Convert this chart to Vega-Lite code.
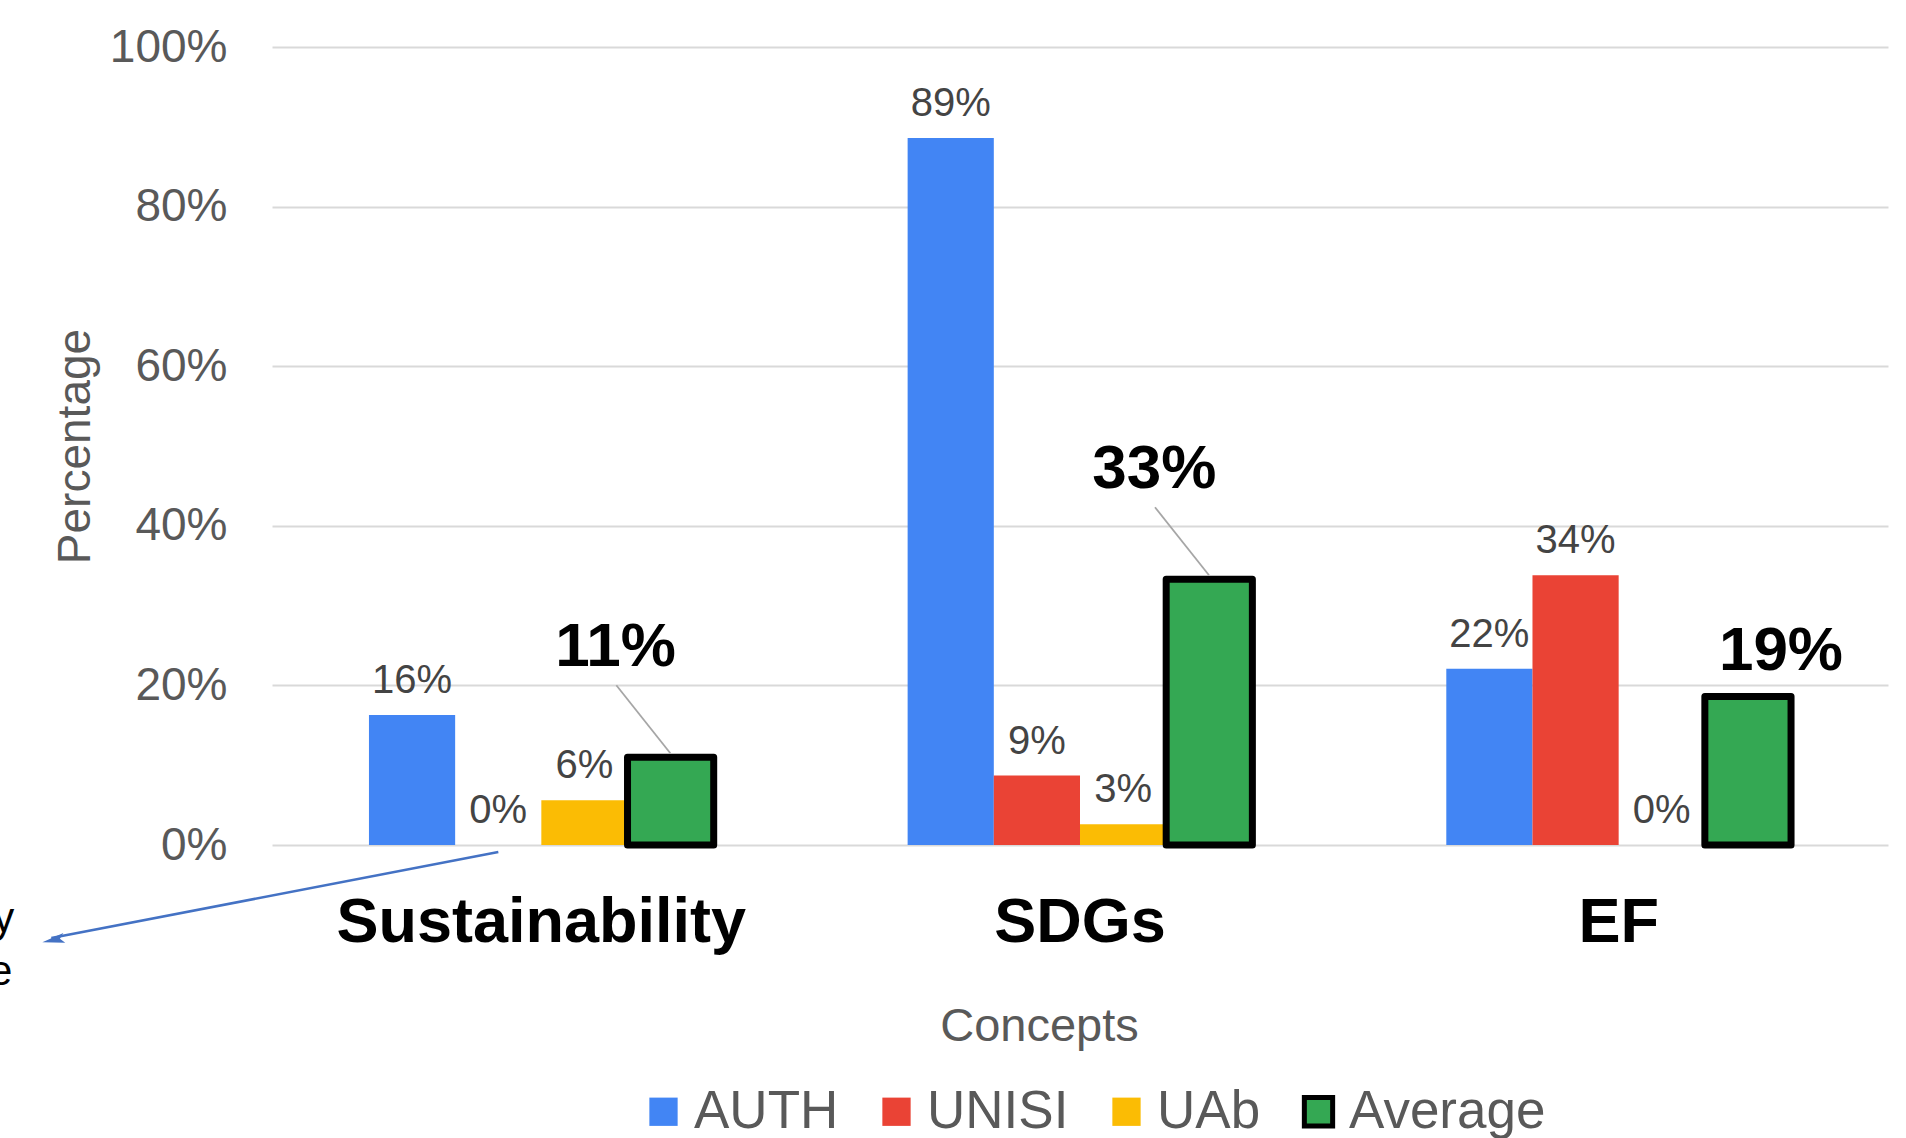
{
  "$schema": "https://vega.github.io/schema/vega-lite/v6.json",
  "autosize": {"type": "none"},
  "width": 1616,
  "height": 798,
  "padding": {"left": 272, "top": 47, "right": 18, "bottom": 293},
  "background": "white",
  "config": {
    "font": "Liberation Sans",
    "view": {"stroke": null},
    "axis": {"labelFont": "Liberation Sans", "titleFont": "Liberation Sans"},
    "legend": {"labelFont": "Liberation Sans"}
  },
  "data": {
    "values": [
      {"Concept": "Sustainability", "Series": "AUTH", "value": 0.163},
      {"Concept": "Sustainability", "Series": "UNISI", "value": 0.0},
      {"Concept": "Sustainability", "Series": "UAb", "value": 0.056},
      {"Concept": "Sustainability", "Series": "Average", "value": 0.11},
      {"Concept": "SDGs", "Series": "AUTH", "value": 0.886},
      {"Concept": "SDGs", "Series": "UNISI", "value": 0.087},
      {"Concept": "SDGs", "Series": "UAb", "value": 0.026},
      {"Concept": "SDGs", "Series": "Average", "value": 0.333},
      {"Concept": "EF", "Series": "AUTH", "value": 0.221},
      {"Concept": "EF", "Series": "UNISI", "value": 0.338},
      {"Concept": "EF", "Series": "UAb", "value": 0.0},
      {"Concept": "EF", "Series": "Average", "value": 0.186}
    ]
  },
  "encoding": {
    "x": {
      "field": "Concept",
      "type": "nominal",
      "sort": ["Sustainability", "SDGs", "EF"],
      "scale": {"domain": ["Sustainability", "SDGs", "EF"], "paddingInner": 0.36, "paddingOuter": 0.18},
      "axis": {
        "title": "Concepts",
        "titleFontSize": 47,
        "titleFontWeight": "normal",
        "titleColor": "#595959",
        "titlePadding": 49,
        "titleX": 767,
        "labelFontSize": 63,
        "labelFontWeight": "bold",
        "labelColor": "#000000",
        "labelAngle": 0,
        "labelPadding": 46,
        "labelLimit": 0,
        "ticks": false,
        "domain": false,
        "grid": false
      }
    },
    "y": {
      "field": "value",
      "type": "quantitative",
      "scale": {"domain": [0, 1]},
      "axis": {
        "title": "Percentage",
        "titleFontSize": 46,
        "titleFontWeight": "normal",
        "titleColor": "#595959",
        "titlePadding": 10,
        "values": [0, 0.2, 0.4, 0.6, 0.8, 1],
        "format": ".0%",
        "labelFontSize": 46,
        "labelColor": "#595959",
        "labelPadding": 45,
        "ticks": false,
        "domain": false,
        "grid": true,
        "gridColor": "#d9d9d9",
        "gridWidth": 2
      }
    }
  },
  "layer": [
    {
      "mark": {"type": "bar", "strokeWidth": 7, "strokeJoin": "round"},
      "encoding": {
        "xOffset": {"field": "Series", "type": "nominal", "sort": ["AUTH", "UNISI", "UAb", "Average"], "scale": {"domain": ["AUTH", "UNISI", "UAb", "Average"], "paddingInner": 0, "paddingOuter": 0}},
        "fill": {
          "field": "Series",
          "type": "nominal",
          "scale": {"domain": ["AUTH", "UNISI", "UAb", "Average"], "range": ["#4285F4", "#EA4335", "#FBBC04", "#34A853"]},
          "legend": {
            "title": null,
            "orient": "none",
            "legendX": 365,
            "legendY": 1038,
            "direction": "horizontal",
            "symbolType": "square",
            "symbolSize": 800,
            "symbolStrokeWidth": 5,
            "labelFontSize": 53,
            "labelColor": "#595959",
            "labelOffset": 4,
            "labelLimit": 0,
            "columnPadding": 31
          }
        },
        "stroke": {
          "field": "Series",
          "type": "nominal",
          "scale": {"domain": ["AUTH", "UNISI", "UAb", "Average"], "range": ["rgba(0,0,0,0)", "rgba(0,0,0,0)", "rgba(0,0,0,0)", "#000000"]},
          "legend": {
            "title": null,
            "orient": "none",
            "legendX": 365,
            "legendY": 1038,
            "direction": "horizontal",
            "symbolType": "square",
            "symbolSize": 800,
            "symbolStrokeWidth": 5,
            "labelFontSize": 53,
            "labelColor": "#595959",
            "labelOffset": 4,
            "labelLimit": 0,
            "columnPadding": 31
          }
        }
      }
    },
    {
      "transform": [{"filter": "datum.Series !== 'Average'"}],
      "mark": {"type": "text", "baseline": "bottom", "dy": -14, "fontSize": 40, "color": "#444444"},
      "encoding": {
        "xOffset": {"field": "Series", "type": "nominal", "sort": ["AUTH", "UNISI", "UAb", "Average"], "scale": {"domain": ["AUTH", "UNISI", "UAb", "Average"]}},
        "text": {"field": "value", "type": "quantitative", "format": ".0%"}
      }
    },
    {
      "transform": [{"filter": "datum.Series === 'Average' && datum.Concept !== 'EF'"}],
      "mark": {"type": "text", "baseline": "middle", "dx": -55, "dy": -110, "fontSize": 62, "fontWeight": "bold", "color": "#000000"},
      "encoding": {
        "xOffset": {"field": "Series", "type": "nominal", "sort": ["AUTH", "UNISI", "UAb", "Average"], "scale": {"domain": ["AUTH", "UNISI", "UAb", "Average"]}},
        "text": {"field": "value", "type": "quantitative", "format": ".0%"}
      }
    },
    {
      "transform": [{"filter": "datum.Series === 'Average' && datum.Concept === 'EF'"}],
      "mark": {"type": "text", "baseline": "middle", "dx": 33, "dy": -46, "fontSize": 62, "fontWeight": "bold", "color": "#000000"},
      "encoding": {
        "xOffset": {"field": "Series", "type": "nominal", "sort": ["AUTH", "UNISI", "UAb", "Average"], "scale": {"domain": ["AUTH", "UNISI", "UAb", "Average"]}},
        "text": {"field": "value", "type": "quantitative", "format": ".0%"}
      }
    },
    {
      "transform": [{"filter": "datum.Series === 'Average' && datum.Concept !== 'EF'"}],
      "mark": {"type": "rule", "color": "#a6a6a6", "strokeWidth": 1.8, "xOffset": 129, "x2Offset": 75, "yOffset": -4, "y2Offset": -72},
      "encoding": {
        "x2": {"field": "Concept"},
        "y2": {"field": "value"}
      }
    },
    {
      "transform": [{"filter": "datum.Series === 'UNISI' && datum.Concept === 'Sustainability'"}],
      "mark": {"type": "rule", "color": "#4472C4", "strokeWidth": 2.5, "xOffset": -43, "x2Offset": -490, "yOffset": 7, "y2Offset": 93},
      "encoding": {
        "x2": {"field": "Concept"},
        "y2": {"field": "value"}
      }
    },
    {
      "transform": [{"filter": "datum.Series === 'UNISI' && datum.Concept === 'Sustainability'"}],
      "mark": {"type": "point", "shape": "M-1,0L1,-0.45L0.6,0L1,0.45Z", "filled": true, "color": "#4472C4", "opacity": 1, "size": 500, "angle": -11, "xOffset": -488, "yOffset": 95},
      "encoding": {}
    },
    {
      "transform": [{"filter": "datum.Series === 'UNISI' && datum.Concept === 'Sustainability'"}],
      "mark": {"type": "text", "text": "y", "align": "right", "baseline": "alphabetic", "fontSize": 42, "color": "#000000", "xOffset": -527, "yOffset": 87},
      "encoding": {}
    },
    {
      "transform": [{"filter": "datum.Series === 'UNISI' && datum.Concept === 'Sustainability'"}],
      "mark": {"type": "text", "text": "e", "align": "right", "baseline": "alphabetic", "fontSize": 42, "color": "#000000", "xOffset": -529, "yOffset": 140},
      "encoding": {}
    }
  ]
}
